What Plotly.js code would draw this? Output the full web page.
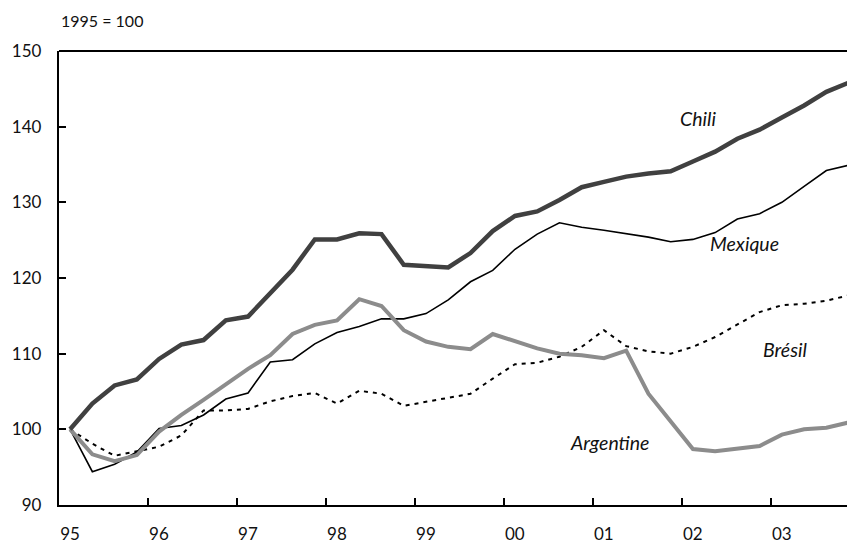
<!DOCTYPE html>
<html>
<head>
<meta charset="utf-8">
<script src="https://cdn.plot.ly/plotly-3.0.1.min.js"></script>
<style>html,body{margin:0;padding:0;background:#fff;}#chart{width:847px;height:545px;}</style>
</head>
<body>
<div id="chart"></div>
<script>
// Quarterly observations, 1995 T1 .. 2003 T4 (index 1995 = 100)
const years = [1995,1996,1997,1998,1999,2000,2001,2002,2003];
const yearLabels = ["95","96","97","98","99","00","01","02","03"];
const quarters = [];
years.forEach(y => { for (let q = 1; q <= 4; q++) quarters.push(y + "T" + q); });

const chili = [100,103.4,105.8,106.6,109.3,111.2,111.8,114.4,114.9,118.0,121.1,125.1,125.1,125.9,125.8,121.75,121.6,121.4,123.3,126.2,128.2,128.8,130.3,132.0,132.7,133.4,133.8,134.1,135.4,136.7,138.4,139.6,141.2,142.8,144.6,145.8];
const mexique = [100,94.4,95.4,97.0,100.1,100.5,101.9,104.0,104.8,108.9,109.2,111.3,112.8,113.6,114.6,114.6,115.3,117.1,119.5,121.0,123.8,125.8,127.3,126.7,126.3,125.9,125.4,124.8,125.1,126.0,127.8,128.5,130.0,132.1,134.2,134.9];
const argentine = [100,96.7,95.8,96.6,99.7,101.9,103.9,105.9,108.0,109.8,112.6,113.8,114.4,117.2,116.3,113.1,111.6,110.9,110.6,112.6,111.7,110.7,110.0,109.8,109.4,110.4,104.7,101.0,97.4,97.1,97.4,97.8,99.3,100.0,100.2,100.9];
const bresil = [100,98.1,96.5,97.1,97.7,99.2,102.5,102.5,102.7,103.7,104.4,104.8,103.4,105.1,104.7,103.1,103.6,104.2,104.7,106.7,108.6,108.8,109.6,110.9,113.1,111.0,110.3,110.0,110.9,112.2,113.8,115.5,116.4,116.6,117.0,117.7];

// position of each quarter on a continuous year axis (middle of the quarter)
const xq = quarters.map(s => { const y = +s.slice(0,4), q = +s.slice(5); return y + (q - 0.5) / 4; });

const FONT = "Lato, 'Open Sans', sans-serif";

const traces = [
  {x: xq, y: bresil, name: "Brésil", mode: "lines", line: {color: "#000", width: 2, dash: "4px,5px"}},
  {x: xq, y: mexique, name: "Mexique", mode: "lines", line: {color: "#000", width: 1.6}},
  {x: xq, y: argentine, name: "Argentine", mode: "lines", line: {color: "#8c8c8c", width: 4}},
  {x: xq, y: chili, name: "Chili", mode: "lines", line: {color: "#404040", width: 4.5}}
];

const labelFont = {family: FONT, size: 19.5, color: "#111", style: "italic"};

const layout = {
  width: 847, height: 545,
  margin: {l: 58.7, r: 0, t: 51, b: 40, pad: 0},
  paper_bgcolor: "#fff", plot_bgcolor: "#fff",
  showlegend: false,
  font: {family: FONT, size: 17, color: "#111"},
  xaxis: {
    range: [1995, 2003.857],
    tickvals: years, ticktext: yearLabels,
    ticks: "inside", ticklen: 7, tickwidth: 2, tickcolor: "#000",
    showline: true, linecolor: "#000", linewidth: 2.2,
    mirror: false, showgrid: false, zeroline: false,
    ticklabelstandoff: 12, ticklabelshift: 11,
    tickfont: {family: FONT, size: 17, color: "#111"}
  },
  yaxis: {
    range: [90, 150],
    tickvals: [90,100,110,120,130,140,150],
    ticks: "inside", ticklen: 7, tickwidth: 2, tickcolor: "#000",
    showline: true, linecolor: "#000", linewidth: 2.2,
    showgrid: false, zeroline: false,
    ticklabelstandoff: 12,
    tickfont: {family: FONT, size: 17, color: "#111"}
  },
  shapes: [
    {type: "line", xref: "paper", yref: "paper", x0: 0, x1: 1, y0: 1, y1: 1, line: {color: "#000", width: 2.2}}
  ],
  annotations: [
    {xref: "paper", yref: "paper", x: 0, y: 1.068, xanchor: "left", yanchor: "middle", showarrow: false,
     text: "1995 = 100", font: {family: FONT, size: 16, color: "#111"}},
    {x: 2002.18, y: 141.1, text: "Chili", showarrow: false, font: labelFont},
    {x: 2002.71, y: 124.6, text: "Mexique", showarrow: false, font: labelFont},
    {x: 2003.16, y: 110.6, text: "Brésil", showarrow: false, font: labelFont},
    {x: 2001.19, y: 98.2, text: "Argentine", showarrow: false, font: labelFont}
  ]
};

Plotly.newPlot("chart", traces, layout, {staticPlot: true, displayModeBar: false});
</script>
</body>
</html>
